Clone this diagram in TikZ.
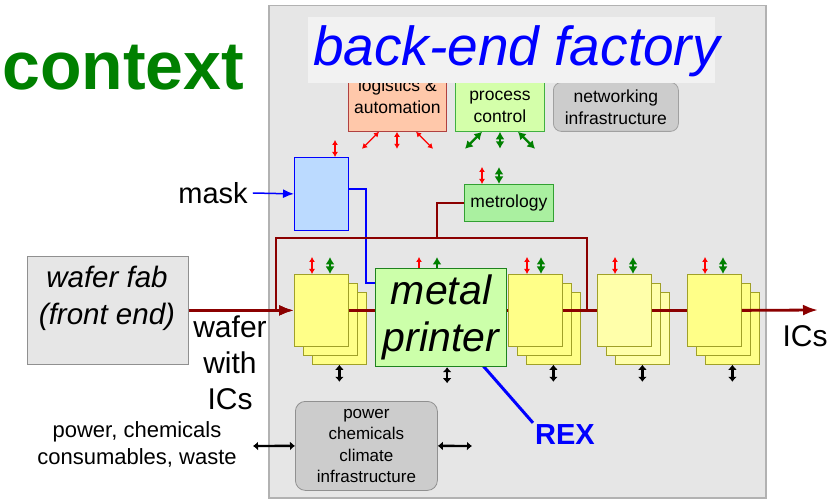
\documentclass[tikz,border=0pt]{standalone}
\usepackage{fontspec}
\setmainfont{Liberation Sans}
\usetikzlibrary{arrows.meta}

\definecolor{factorygray}{RGB}{230,230,230}
\definecolor{factoryedge}{RGB}{178,178,178}
\definecolor{titlegray}{RGB}{242,242,242}
\definecolor{logfill}{RGB}{255,200,170}
\definecolor{logedge}{RGB}{176,64,64}
\definecolor{procfill}{RGB}{212,255,170}
\definecolor{procedge}{RGB}{64,176,64}
\definecolor{netfill}{RGB}{204,204,204}
\definecolor{netedge}{RGB}{160,160,160}
\definecolor{maskblue}{RGB}{187,218,255}
\definecolor{metfill}{RGB}{170,240,160}
\definecolor{metedge}{RGB}{50,160,50}
\definecolor{mpfill}{RGB}{204,255,170}
\definecolor{mpedge}{RGB}{30,130,30}
\definecolor{sheetyellow}{RGB}{255,255,136}
\definecolor{sheetlight}{RGB}{255,255,170}
\definecolor{sheetedge}{RGB}{160,160,40}
\definecolor{darkred}{RGB}{139,0,0}
\definecolor{iogreen}{RGB}{0,128,0}
\definecolor{fabedge}{RGB}{144,144,144}

\newcommand{\pxfont}[2]{\fontsize{#1}{#2}\selectfont}

\tikzset{
  box/.style={draw,line width=0.8pt,inner sep=0pt,anchor=north west},
  sheet/.style={box,draw=sheetedge,fill=sheetyellow,minimum width=54pt,minimum height=72pt},
  redio/.style={>={Latex[length=5pt,width=6pt]},<->,red,line width=1.3pt},
  greenio/.style={>={Latex[length=7.5pt,width=9pt]},<->,iogreen,line width=2.2pt},
  blackio/.style={>={Latex[length=5pt,width=9pt]},<->,black,line width=2.4pt},
  wafer/.style={darkred,line width=2.8pt,>={Latex[length=15pt,width=11pt]}},
  bluelink/.style={blue,line width=1.5pt,>={Latex[length=11pt,width=9pt]}}
}

\begin{document}
\begin{tikzpicture}[x=1pt,y=-1pt]
    \useasboundingbox (0,0) rectangle (832,502);

    \node (factory) at (268,5) [box,draw=factoryedge,line width=1.5pt,fill=factorygray,minimum width=497pt,minimum height=492pt] {};

    \node (context) at (2,90) [anchor=base west,inner sep=0pt,text=iogreen,font=\pxfont{68}{80}\bfseries] {context};

    \node (logist) at (348,60) [box,draw=logedge,fill=logfill,minimum width=98pt,minimum height=71pt,align=center,font=\pxfont{17.5}{22}] {logistics \&\\automation};
    \node   (proc) at (455,82) [box,draw=procedge,fill=procfill,minimum width=89pt,minimum height=49pt,align=center,font=\pxfont{17.5}{22}] {process\\control};
    \node   (netw) at (553,82) [box,draw=netedge,fill=netfill,rounded corners=8pt,minimum width=125pt,minimum height=49pt,align=center,font=\pxfont{17.5}{22}] {networking\\infrastructure};

    \node (titlebg) at (308,17) [box,draw=none,fill=titlegray,minimum width=407pt,minimum height=66pt] {};
    \node   (title) at (313,66) [anchor=base west,inner sep=0pt,text=blue,font=\pxfont{55}{66}\itshape] {back-end factory};

    \draw[redio] ([xshift=31pt]logist.south west) -- ++(-17,17);
    \draw[redio] ([xshift=49pt]logist.south west) -- ++(0,17);
    \draw[redio] ([xshift=68pt]logist.south west) -- ++(17,17);
    \draw[greenio] ([xshift=27pt]proc.south west) -- ++(-17,17);
    \draw[greenio] ([xshift=45pt]proc.south west) -- ++(0,17);
    \draw[greenio] ([xshift=63pt]proc.south west) -- ++(17,17);

    % mask
    \node    (mask) at (294,157) [box,draw=blue,fill=maskblue,minimum width=54pt,minimum height=73pt] {};
    \node (masklbl) at (213,193) [inner sep=5pt,font=\pxfont{29}{34}] {mask};
    \draw[bluelink,->] (masklbl.east) -- (mask.west);
    \draw[redio] ([xshift=41pt]mask.north west) -- ++(0,-17);

    % metrology
    \node (metro) at (464,184) [box,draw=metedge,fill=metfill,minimum width=89pt,minimum height=37pt,font=\pxfont{17.5}{22}] {metrology};
    \draw[redio] ([xshift=18pt]metro.north west) -- ++(0,-17);
    \draw[greenio] ([xshift=35pt]metro.north west) -- ++(0,-17);

    \coordinate (maskTurn) at (366,283);
    \draw[bluelink] ([yshift=5pt]mask.east) -| (maskTurn) -- ++(12,0);

    % stacks
    \node (s1c) at (312,292) [sheet] {};
    \node (s1b) at (303,283) [sheet] {};
    \node  (s1) at (294,274) [sheet] {};
    \node (s2c) at (526,292) [sheet] {};
    \node (s2b) at (517,283) [sheet] {};
    \node  (s2) at (508,274) [sheet] {};
    \node (s3c) at (615,292) [sheet,fill=sheetlight] {};
    \node (s3b) at (606,283) [sheet,fill=sheetlight] {};
    \node  (s3) at (597,274) [sheet,fill=sheetlight] {};
    \node (s4c) at (705,292) [sheet] {};
    \node (s4b) at (696,283) [sheet] {};
    \node  (s4) at (687,274) [sheet] {};

    \draw[redio] ([xshift=18pt]s1.north west) -- ++(0,-17);
    \draw[greenio] ([xshift=36pt]s1.north west) -- ++(0,-17);
    \draw[redio] ([xshift=19pt]s2.north west) -- ++(0,-17);
    \draw[greenio] ([xshift=33pt]s2.north west) -- ++(0,-17);
    \draw[redio] ([xshift=18pt]s3.north west) -- ++(0,-17);
    \draw[greenio] ([xshift=36pt]s3.north west) -- ++(0,-17);
    \draw[redio] ([xshift=18pt]s4.north west) -- ++(0,-17);
    \draw[greenio] ([xshift=36pt]s4.north west) -- ++(0,-17);

    \draw[blackio] (s1c.south) -- ++(0,17);
    \draw[blackio] (s2c.south) -- ++(0,17);
    \draw[blackio] (s3c.south) -- ++(0,17);
    \draw[blackio] (s4c.south) -- ++(0,17);

    % REX
    \coordinate (rexStart) at (478,360);
    \node (rex) at (565,435) [inner sep=2pt,text=blue,font=\pxfont{29}{34}\bfseries] {REX};
    \draw[blue,line width=3pt] (rexStart) -- (rex.north west);

    % metal printer
    \node (mp) at (375,268) [box,draw=mpedge,line width=1.2pt,fill=mpfill,minimum width=131pt,minimum height=98pt,align=center,font=\pxfont{41}{47}\itshape] {metal\\printer};
    \draw[redio,->] ([xshift=44pt]mp.north west) -- ++(0,-11);
    \draw[greenio,->] ([xshift=62pt]mp.north west) -- ++(0,-11);
    \draw[blackio] ([xshift=6pt]mp.south) -- ++(0,16);

    % wafer fab
    \node    (fab) at (27,256) [box,draw=fabedge,fill=factorygray,minimum width=161pt,minimum height=108pt] {};
    \node (fablbl) at (107,298) [align=center,font=\pxfont{29.5}{37}\itshape] {wafer fab\\(front end)};
    \node (waferlbl) at (230,363) [align=center,font=\pxfont{30}{36}] {wafer\\with\\ICs};

    % wafer flow
    \coordinate (loopR) at (587,310);
    \coordinate (loopL) at (276,238);
    \coordinate (metLink) at (437,238);
    \coordinate (icsEnd) at (818,310);

    \draw[wafer,->] (fab.east) -- (s1.west);
    \draw[wafer] (s1.east) -- (s1.east -| mp.west);
    \draw[wafer] (mp.east |- s2.west) -- (s2.west);
    \draw[wafer] (s2.east) -- (s3.west);
    \draw[wafer] (s3.east) -- (s4.west);
    \draw[wafer,->] (s4.east) -- (icsEnd);
    \draw[wafer,->] (loopR) |- (loopL) |- (s1.west);
    \draw[wafer,line width=1.8pt] (metro.west) -| (metLink);

    \node (icslbl) at (805,336) [font=\pxfont{30}{36}] {ICs};

    % power
    \node (pwr) at (295,401) [box,draw=fabedge,fill=netfill,rounded corners=10pt,minimum width=142pt,minimum height=89pt,align=center,font=\pxfont{17}{21.5}] {power\\chemicals\\climate\\infrastructure};
    \node (pwrlbl) at (137,444) [align=center,inner sep=2pt,font=\pxfont{22}{27}] {power, chemicals\\consumables, waste};
    \coordinate (pwrIn) at (253,446);
    \coordinate (pwrOut) at (472,446);
    \draw[blackio] (pwrIn) -- (pwr.west);
    \draw[blackio] (pwr.east) -- (pwrOut);

\end{tikzpicture}
\end{document}
